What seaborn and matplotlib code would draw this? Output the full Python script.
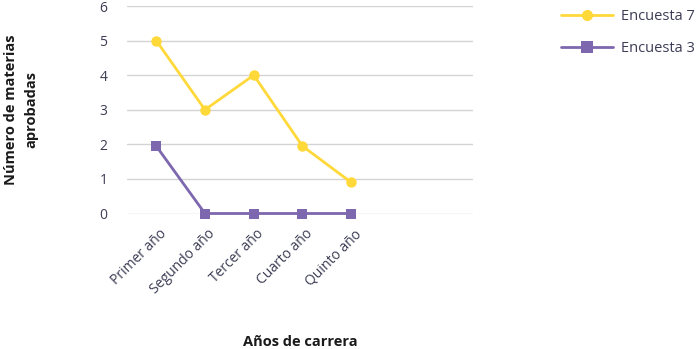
import numpy as np
import matplotlib
matplotlib.use("Agg")
import matplotlib.pyplot as plt
import matplotlib.transforms as mtransforms
import pandas as pd
import seaborn as sns

# data
years = ["Primer año", "Segundo año", "Tercer año", "Cuarto año", "Quinto año"]
encuesta_7 = [5, 3, 4, 1.95, 0.9]
encuesta_3 = [1.95, 0, 0, 0, 0]
series_names = ["Encuesta 7", "Encuesta 3"]
yticks = [0, 1, 2, 3, 4, 5, 6]

colors = {"Encuesta 7": "#FFD83A", "Encuesta 3": "#7D67AE"}
markers = {"Encuesta 7": "o", "Encuesta 3": "s"}

df = pd.DataFrame({
    "year": years * 2,
    "value": encuesta_7 + encuesta_3,
    "serie": [series_names[0]] * len(years) + [series_names[1]] * len(years),
})

sns.set_style("white")
plt.rcParams["font.family"] = ["Open Sans", "DejaVu Sans"]

fig = plt.figure(figsize=(6.97, 3.49), dpi=100)
ax = fig.add_axes([127 / 697, 1 - 213.5 / 349, 346 / 697, 207.5 / 349])

sns.lineplot(data=df, x="year", y="value", hue="serie", style="serie",
             palette=colors, markers=markers, dashes=False, sort=False,
             linewidth=2, markersize=7.5, markeredgewidth=0, ax=ax,
             clip_on=False, legend=False, zorder=3)

ax.set_xlim(-0.6, 6.5)
ax.set_ylim(0, 6)
ax.set_yticks(yticks)
ax.yaxis.grid(True, color="#d4d4d4", linewidth=1)
ax.xaxis.grid(False)
for s in ax.spines.values():
    s.set_visible(False)

ax.tick_params(axis="y", length=0, pad=14, labelsize=10, labelcolor="#3c3c55")
ax.tick_params(axis="x", length=0, pad=6, labelsize=10, labelcolor="#3c3c55")
ax.set_xticks(range(len(years)))
ax.set_xticklabels(years, rotation=45, ha="right", va="center",
                   rotation_mode="anchor")
# nudge rotated labels to the right/down like the original
offset = mtransforms.ScaledTranslation(0.08, -0.10, fig.dpi_scale_trans)
for lbl in ax.get_xticklabels():
    lbl.set_transform(lbl.get_transform() + offset)

ax.set_ylabel("Número de materias\naprobadas", fontsize=10.5,
              fontweight="bold", color="#1a1a1a", linespacing=1.55)
ax.yaxis.set_label_coords(-0.256, 0.5)
ax.set_xlabel("Años de carrera", fontsize=10.5, fontweight="bold",
              color="#1a1a1a")
ax.xaxis.set_label_coords(0.5, -0.585)

# legend, top right
handles = [
    plt.Line2D([], [], color=colors[n], marker=markers[n], linewidth=2,
               markersize=8, markeredgewidth=0)
    for n in series_names
]
fig.legend(handles, series_names, loc="upper right", bbox_to_anchor=(1.01, 1.0),
           frameon=False, fontsize=10.5, handlelength=3.6, labelspacing=1.15,
           handletextpad=0.5, borderaxespad=0.25, labelcolor="#3c3c55")

fig.savefig("out.png", dpi=100)
